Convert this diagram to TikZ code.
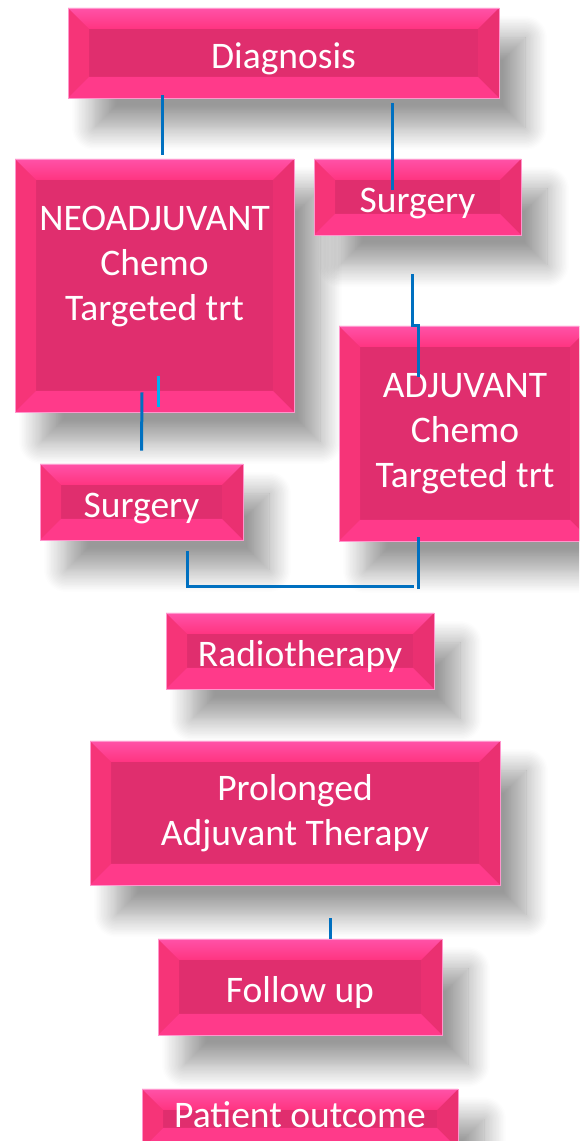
\documentclass[tikz,border=0pt]{standalone}
\usepackage{fontspec}
\setmainfont{Carlito}
\usetikzlibrary{shadows.blur}
\definecolor{cara}{RGB}{224,46,110}
\definecolor{biselsup}{RGB}{255,82,168}
\definecolor{biselsupb}{RGB}{255,52,128}
\definecolor{biselinf}{RGB}{255,58,138}
\definecolor{biselizq}{RGB}{246,52,120}
\definecolor{biselder}{RGB}{234,48,113}
\definecolor{borde}{RGB}{255,150,205}
\definecolor{azul}{RGB}{0,112,192}
\definecolor{celeste}{RGB}{0,176,240}
\begin{document}
\begin{tikzpicture}[x=1pt, y=1pt,
  bisel/.style={path picture={
    \path (path picture bounding box.north west) coordinate (p1)
          (path picture bounding box.north east) coordinate (p2)
          (path picture bounding box.south east) coordinate (p3)
          (path picture bounding box.south west) coordinate (p4);
    \fill[biselizq] (p1) -- ([shift={(21pt,-21pt)}]p1) -- ([shift={(21pt,21pt)}]p4) -- (p4) -- cycle;
    \fill[biselder] (p2) -- ([shift={(-21pt,-21pt)}]p2) -- ([shift={(-21pt,21pt)}]p3) -- (p3) -- cycle;
    \shade[top color=biselsup, bottom color=biselsupb] (p1) -- (p2) -- ([shift={(-21pt,-21pt)}]p2) -- ([shift={(21pt,-21pt)}]p1) -- cycle;
    \fill[biselinf] (p4) -- (p3) -- ([shift={(-21pt,21pt)}]p3) -- ([shift={(21pt,21pt)}]p4) -- cycle;
  }},
  caja/.style={rectangle, fill=cara, draw=borde, line width=0.8pt, text=white, align=center,
    inner sep=0pt, font=\fontsize{37.5}{45}\selectfont, bisel,
    execute at begin node={\rule{0pt}{37pt}},
    blur shadow={shadow xshift=26pt, shadow yshift=-30pt, shadow blur radius=22pt,
      shadow blur steps=16, shadow opacity=40}},
  linea/.style={draw=azul, line width=3pt}]
\useasboundingbox (0,0) rectangle (579,1141);
\clip (0,0) rectangle (579,1141);
% Cajas
\node [caja, minimum width=431pt, minimum height=90pt]  (diag)    at (283.5,1088)  {Diagnosis};
\node [caja, minimum width=279pt, minimum height=253pt] (neo)     at (154.5,855.5) {NEOADJUVANT\\Chemo\\Targeted trt\\\mbox{}};
\node [caja, minimum width=207pt, minimum height=76pt]  (surgA)   at (417.5,944)   {Surgery};
\node [caja, minimum width=252pt, minimum height=215pt] (adj)     at (465,707.5)   {ADJUVANT\\Chemo\\Targeted trt};
\node [caja, minimum width=203pt, minimum height=76pt]  (surgB)   at (141.5,639)   {Surgery};
\node [caja, minimum width=268pt, minimum height=76pt]  (radio)   at (300,490)     {Radiotherapy};
\node [caja, minimum width=410pt, minimum height=144pt] (prolong) at (295,328)     {Prolonged\\Adjuvant Therapy};
\node [caja, minimum width=284pt, minimum height=96pt]  (follow)  at (300,154)     {Follow up};
\node [caja, minimum width=316pt, minimum height=60pt]  (outcome) at (300,22)      {\raisebox{10pt}{Patient outcome}};
% Lineas
% ---
\draw [linea] ([xshift=-121.5pt,yshift=3pt]diag.south) -- ([xshift=7.5pt,yshift=4pt]neo.north);
\draw [linea] ([xshift=108.5pt,yshift=-5pt]diag.south) -- ([xshift=-25.5pt,yshift=-31pt]surgA.north);
\draw [linea] ([xshift=-5.5pt,yshift=-39pt]surgA.south) -- ++(0,-51) -| ([xshift=-47pt,yshift=-51pt]adj.north);
\draw [linea, draw=celeste] ([xshift=3.5pt,yshift=36pt]neo.south) -- ([xshift=3.5pt,yshift=5pt]neo.south);
\draw [linea] ([xshift=-12.5pt,yshift=20pt]neo.south) -- ([yshift=13pt]surgB.north);
\draw [linea] ([xshift=45.5pt,yshift=-11pt]surgB.south) |- ([xshift=-51pt,yshift=-45pt]adj.south);
\draw [linea] ([xshift=-47pt,yshift=4pt]adj.south) -- ([xshift=-47pt,yshift=-48pt]adj.south);
\draw [linea] ([xshift=35pt,yshift=-33pt]prolong.south) -- ([xshift=30pt]follow.north);
\end{tikzpicture}
\end{document}
